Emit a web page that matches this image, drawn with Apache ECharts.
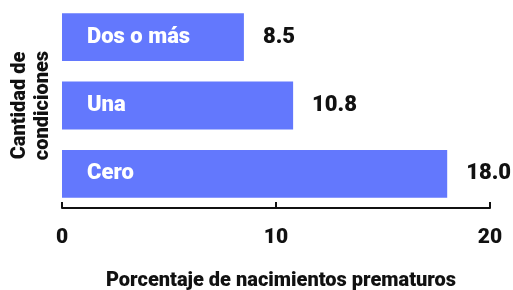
<!DOCTYPE html>
<html>
<head>
<meta charset="utf-8">
<script src="https://cdn.jsdelivr.net/npm/echarts@6/dist/echarts.min.js"></script>
<style>
html, body { margin: 0; padding: 0; background: #fff; }
#chart { width: 513px; height: 290px; }
</style>
</head>
<body>
<div id="chart"></div>
<script>
// categorias de abajo hacia arriba
const categorias = ['Cero', 'Una', 'Dos o más'];
const porcentajes = [18.0, 10.8, 8.5];
const ticksX = [0, 10, 20];

const chart = echarts.init(document.getElementById('chart'));
const fuente = 'Roboto, "Noto Sans", sans-serif';
const peso = 900;

const option = {
	animation: false,
	grid: { left: 62, right: 23, top: 3, bottom: 82, outerBoundsMode: 'none', containLabel: false },
	xAxis: {
		type: 'value',
		min: ticksX[0],
		max: ticksX[ticksX.length - 1],
		interval: 10,
		name: 'Porcentaje de nacimientos prematuros',
		nameLocation: 'middle',
		nameGap: 63,
		nameTextStyle: { color: '#111', fontFamily: fuente, fontWeight: peso, fontSize: 20, padding: [0, 0, 0, 10] },
		axisLine: { show: true, lineStyle: { color: '#111', width: 2 } },
		axisTick: { show: true, inside: true, length: 6, lineStyle: { color: '#111', width: 2 } },
		axisLabel: { color: '#111', fontFamily: fuente, fontWeight: peso, fontSize: 21, margin: 19 },
		splitLine: { show: false }
	},
	yAxis: {
		type: 'category',
		data: categorias,
		z: 10,
		name: 'Cantidad de\ncondiciones',
		nameLocation: 'middle',
		nameRotate: 90,
		nameGap: 6,
		nameTextStyle: { color: '#111', fontFamily: fuente, fontWeight: peso, fontSize: 20, lineHeight: 23 },
		axisLine: { show: false },
		axisTick: { show: false },
		axisLabel: { inside: true, margin: 25, color: '#fff', fontFamily: fuente, fontWeight: peso, fontSize: 22 }
	},
	series: [{
		type: 'bar',
		data: porcentajes,
		barCategoryGap: '30%',
		itemStyle: { color: '#6378FD' },
		label: {
			show: true,
			position: 'right',
			distance: 19,
			color: '#111',
			fontFamily: fuente,
			fontWeight: peso,
			fontSize: 22,
			formatter: p => p.value.toFixed(1)
		}
	}]
};

chart.setOption(option);
</script>
</body>
</html>
